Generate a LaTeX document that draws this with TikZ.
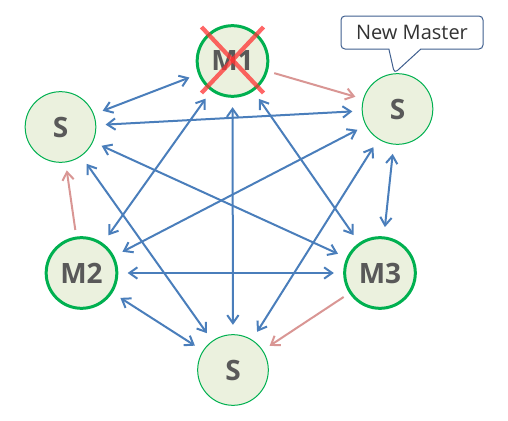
\documentclass[tikz,border=0pt]{standalone}
\usepackage{fontspec}
\setmainfont{Open Sans}
\usetikzlibrary{arrows.meta,shapes.callouts}
\definecolor{nodefill}{HTML}{EBF1DE}
\definecolor{nodeline}{HTML}{00B050}
\definecolor{linkblue}{HTML}{4A7EBB}
\definecolor{linkpink}{HTML}{D99694}
\definecolor{txtgray}{HTML}{595959}
\definecolor{crossred}{HTML}{FF3333}
\definecolor{noteline}{HTML}{3F5F8F}
\begin{document}
\begin{tikzpicture}[x=0.75pt,y=-0.75pt,
    >={Straight Barb[length=6pt,width=8.5pt]},
    server/.style={circle,draw=nodeline,fill=nodefill,minimum size=53pt,inner sep=0pt,text=txtgray,font=\fontsize{21}{24}\selectfont\bfseries},
    master/.style={server,line width=2.25pt},
    slave/.style={server,line width=0.75pt},
    link/.style={<->,linkblue,line width=1.5pt,shorten >=7pt,shorten <=7pt},
    move/.style={->,linkpink,line width=1.5pt,shorten >=6pt,shorten <=5pt},
    cross/.style={crossred,opacity=0.75,line width=3.2pt}]
    \useasboundingbox (0,0) rectangle (508,421);
    \node[master] (m1) at (232.5,61) {M1};
    \node[master] (m2) at (81.5,273) {M2};
    \node[master] (m3) at (380,273) {M3};
    \node[slave] (sl) at (60.5,127) {S};
    \node[slave] (sr) at (397.5,109) {S};
    \node[slave] (sb) at (233,370) {S};
    \draw[cross] ([shift={(-31,-34)}]m1.center) -- ([shift={(31,32)}]m1.center);
    \draw[cross] ([shift={(31,-34)}]m1.center) -- ([shift={(-31,32)}]m1.center);
    \node[rectangle callout,draw=noteline,fill=white,rounded corners=3pt,line width=0.75pt,
        minimum width=106.5pt,minimum height=24.75pt,inner sep=0pt,
        callout absolute pointer={(sr.95)},callout pointer width=24pt,
        font=\fontsize{15}{18}\selectfont,text=black!80] (note) at (412,32.5) {New Master};
    \draw[link] (sl) -- (m1);
    \draw[link] (sl) -- (sr);
    \draw[link] (sl) -- (m3);
    \draw[link] (sl) -- (sb);
    \draw[link] (m1) -- (m2);
    \draw[link] (m1) -- (sb);
    \draw[link] (m1) -- (m3);
    \draw[link] (sr) -- (m2);
    \draw[link] (sr) -- (sb);
    \draw[link] (sr) -- (m3);
    \draw[link] (m2) -- (m3);
    \draw[link] (m2) -- (sb);
    \draw[move] (m1) -- (sr);
    \draw[move] (m2) -- (sl);
    \draw[move] (m3) -- (sb);
\end{tikzpicture}
\end{document}
